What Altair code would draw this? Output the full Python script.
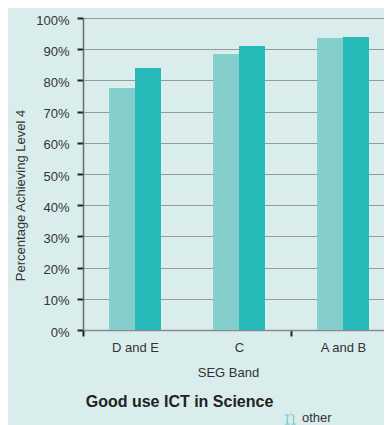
import altair as alt
import pandas as pd

bands = ["D and E", "C", "A and B"]
series = ["other", "good use of ICT"]
other_vals = [0.776, 0.885, 0.936]
good_vals = [0.840, 0.910, 0.939]
y_ticks = [0, 0.1, 0.2, 0.3, 0.4, 0.5, 0.6, 0.7, 0.8, 0.9, 1.0]

rows = []
for b, o, g in zip(bands, other_vals, good_vals):
    rows.append({"band": b, "series": series[0], "value": o})
    rows.append({"band": b, "series": series[1], "value": g})
df = pd.DataFrame(rows)

BG = "#d9eded"
LIGHT = "#84cfcc"
DARK = "#26bbb8"
FONT = "Liberation Sans"

# an "n"-shaped glyph as legend symbol (unit box -1..1)
n_path = (
    "M-0.55,-0.55H-0.35V0.9H-0.55Z"
    "M-0.8,-0.55H-0.35V-0.4H-0.8Z"
    "M-0.8,0.8H-0.1V0.95H-0.8Z"
    "M0.35,-0.2H0.55V0.9H0.35Z"
    "M0.1,0.8H0.8V0.95H0.1Z"
    "M-0.35,-0.2C-0.25,-0.5 -0.1,-0.62 0.05,-0.62C0.38,-0.62 0.55,-0.45 0.55,-0.2"
    "L0.35,-0.2C0.35,-0.36 0.25,-0.45 0.05,-0.45C-0.12,-0.45 -0.25,-0.33 -0.35,-0.05Z"
)

chart = (
    alt.Chart(df)
    .mark_bar()
    .encode(
        x=alt.X(
            "band:N",
            sort=bands,
            scale=alt.Scale(paddingInner=0, paddingOuter=0, range=[0, 312]),
            axis=alt.Axis(
                title="SEG Band",
                labelAngle=0,
                tickBand="extent",
                tickSize=6,
                tickWidth=2,
                tickColor={"condition": {"test": "datum.value === 'D and E'", "value": "transparent"}, "value": "#222222"},
                domainColor="#8a8a8a",
                domainWidth=1.5,
                labelPadding=5,
                labelFontSize=13,
                labelColor="#333333",
                labelFont=FONT,
                titleFont=FONT,
                titleFontSize=13,
                titleFontWeight="normal",
                titleColor="#333333",
                titleX=145,
                titleY=36,
                titleBaseline="top",
                grid=False,
            ),
        ),
        xOffset=alt.XOffset(
            "series:N",
            sort=series,
            scale=alt.Scale(domain=series, paddingOuter=1, paddingInner=0),
        ),
        y=alt.Y(
            "value:Q",
            scale=alt.Scale(domain=[0, 1]),
            axis=alt.Axis(
                title="Percentage Achieving Level 4",
                values=y_ticks,
                format=".0%",
                tickSize=6,
                tickWidth=2,
                tickColor="#222222",
                domainColor="#6a6a6a",
                domainWidth=1.5,
                gridColor="#999999",
                gridWidth=1.2,
                labelPadding=8,
                labelOffset=2,
                labelFontSize=13,
                labelColor="#333333",
                labelFont=FONT,
                titleFont=FONT,
                titleFontSize=13,
                titleFontWeight="normal",
                titleColor="#333333",
                titleX=-63,
                titleY=177,
                titleBaseline="middle",
            ),
        ),
        color=alt.Color(
            "series:N",
            sort=series,
            scale=alt.Scale(domain=series, range=[LIGHT, DARK]),
            legend=alt.Legend(
                title=None,
                orient="none",
                direction="vertical",
                values=["other"],
                legendX=200.5,
                legendY=393,
                symbolType=n_path,
                symbolSize=196,
                symbolStrokeWidth=0,
                labelOffset=4.5,
                labelFontSize=13,
                labelFont=FONT,
                labelColor="#333333",
                padding=0,
            ),
        ),
    )
    .properties(
        width=301,
        height=312,
        padding={"left": 75, "top": 10, "right": 0, "bottom": 95},
        autosize=alt.AutoSizeParams(type="none"),
        background=BG,
        title=alt.TitleParams(
            "Good use ICT in Science",
            orient="bottom",
            anchor="middle",
            frame="group",
            font=FONT,
            fontSize=16,
            fontWeight="bold",
            color="#222222",
            dx=-54,
            offset=-31,
        ),
    )
    .configure_view(stroke=None)
)

chart.save("out.html", embed_options={"renderer": "svg", "actions": False})
